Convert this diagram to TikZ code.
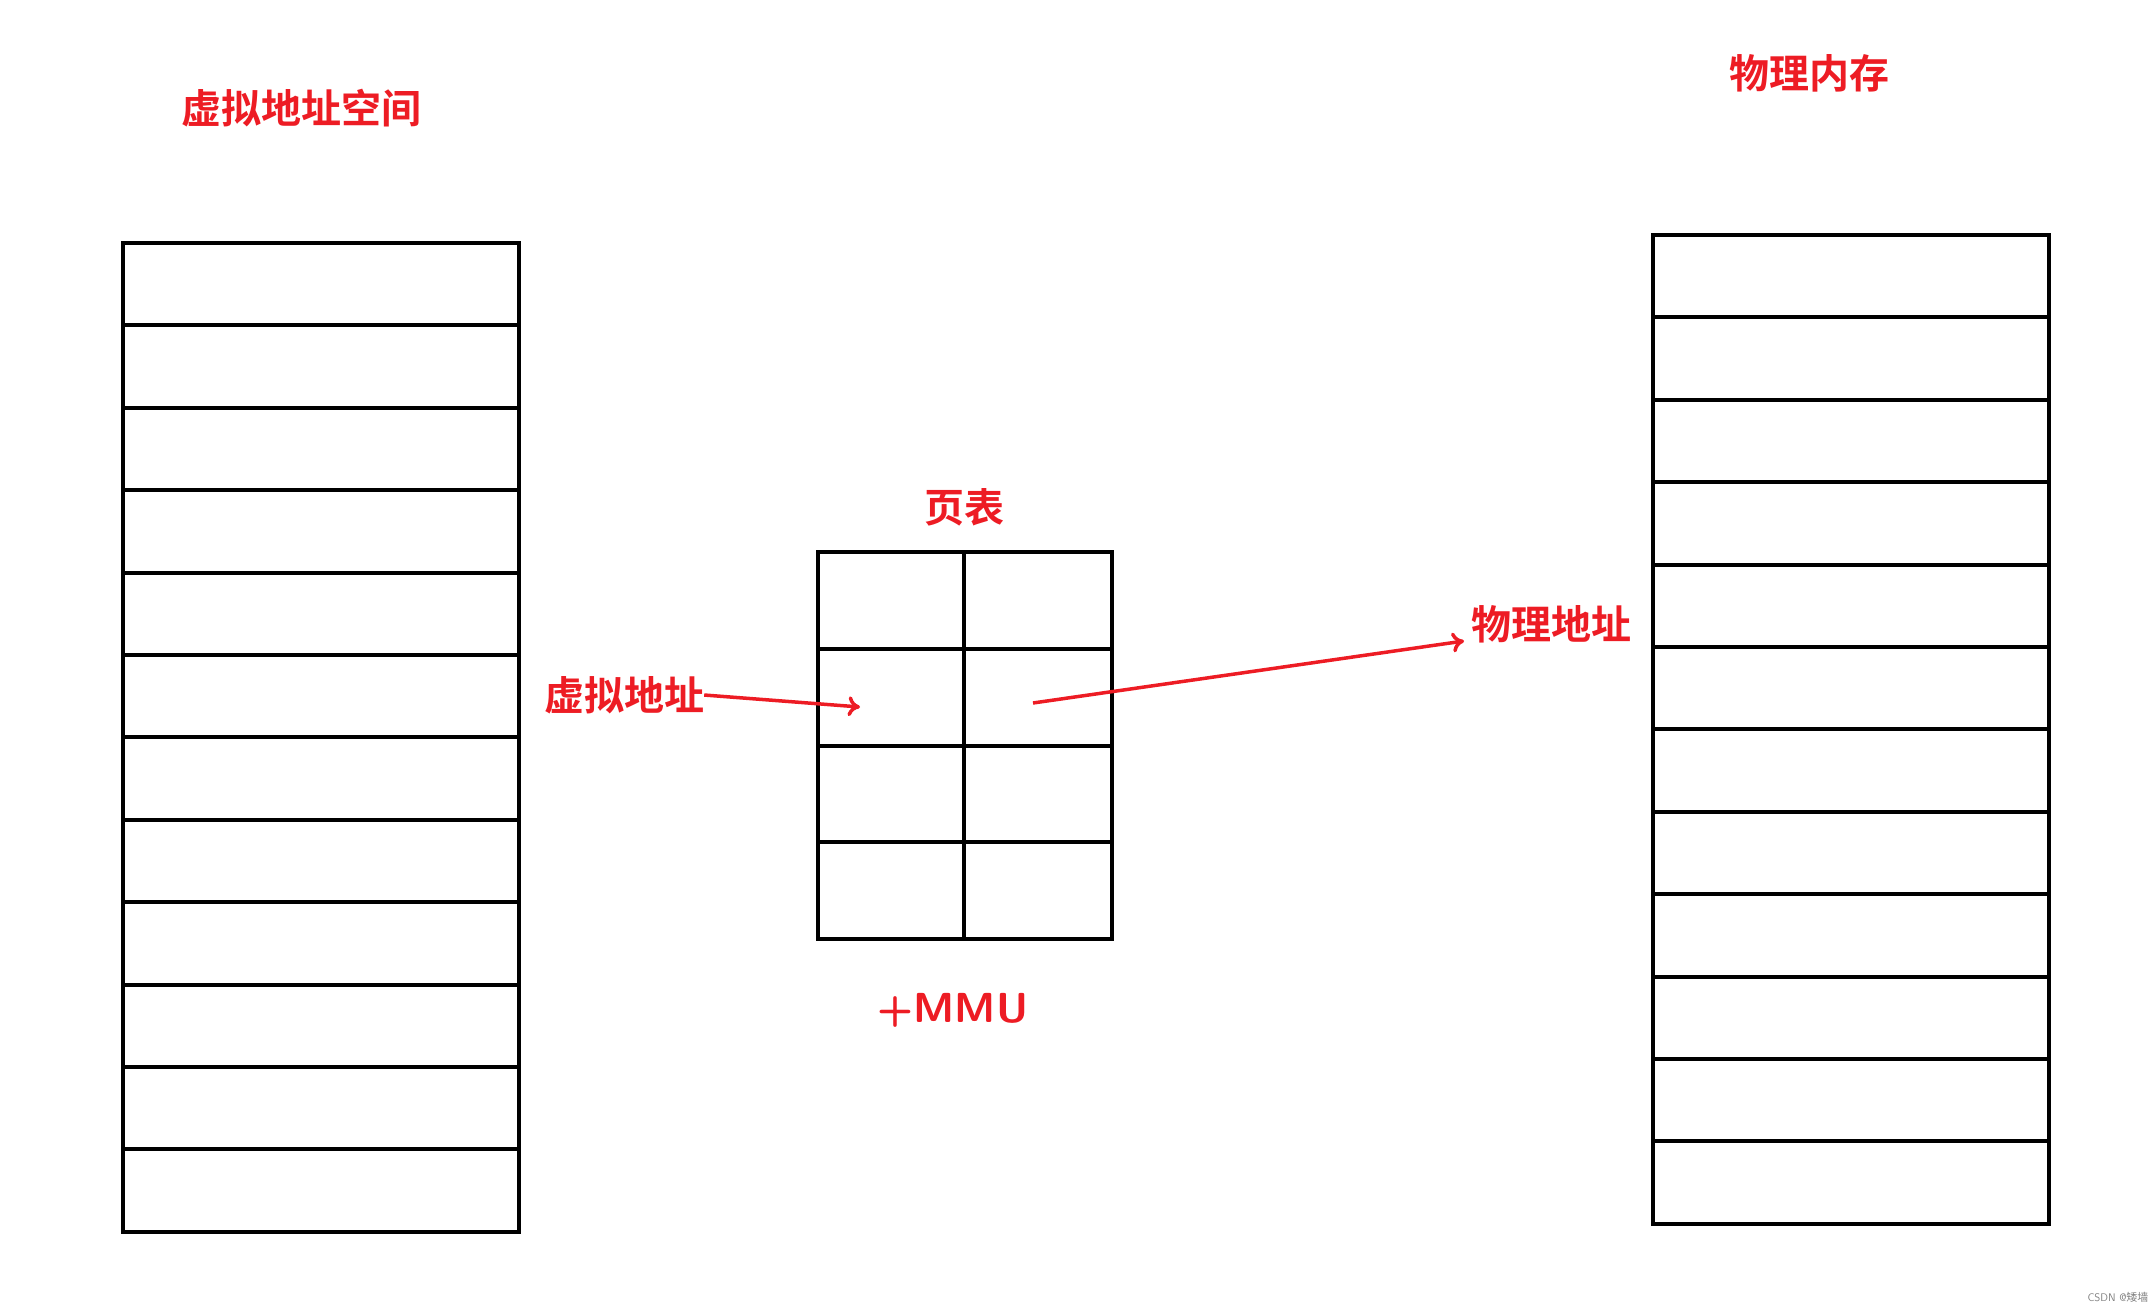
\documentclass[tikz,border=0pt]{standalone}
\usepackage{fontspec}
\usetikzlibrary{arrows.meta}
\newfontfamily\cjk{Noto Sans CJK SC}[BoldFont={Noto Sans CJK SC Bold}]
\definecolor{pred}{RGB}{237,28,36}
\begin{document}
\begin{tikzpicture}[x=1pt,y=-1pt,
  box/.style={line width=4pt,draw=black},
  lab/.style={text=pred,font=\cjk\bfseries\fontsize{40}{44}\selectfont,inner sep=0pt},
  arr/.style={draw=pred,line width=3.5pt,-{To[length=12pt,width=20pt]}}]
\useasboundingbox (0,0) rectangle (2155,1307);
% left column
\foreach \i in {0,...,11}{\draw[box] (123,{243+\i*82.4}) rectangle (519,{243+(\i+1)*82.4});}
% right column
\foreach \i in {0,...,11}{\draw[box] (1653,{235+\i*82.4}) rectangle (2049,{235+(\i+1)*82.4});}
% table
\foreach \i in {0,...,3}{\draw[box] (818,{552+\i*96.75}) rectangle (964,{552+(\i+1)*96.75});
  \draw[box] (964,{552+\i*96.75}) rectangle (1112,{552+(\i+1)*96.75});}
\node[lab] (t1) at (301,108) {虚拟地址空间};
\node[lab] (t2) at (1809,73) {物理内存};
\node[lab] (t3) at (964,507) {页表};
\node[lab,font=\sffamily\bfseries\fontsize{42}{44}\selectfont] (t4) at (953,1010) {+MMU};
\node[lab] (va) at (624,695) {虚拟地址};
\node[lab] (pa) at (1551,624) {物理地址};
\coordinate (a1) at (860,707);
\coordinate (b0) at (1033,703);
\coordinate (b1) at (1464,641);
\draw[arr] (va.east) -- (a1);
\draw[arr] (b0) -- (b1);
\node[text=gray,font=\sffamily\fontsize{11}{12}\selectfont] (wm) at (2118,1297) {CSDN @{\cjk 矮墙}};
\end{tikzpicture}
\end{document}
